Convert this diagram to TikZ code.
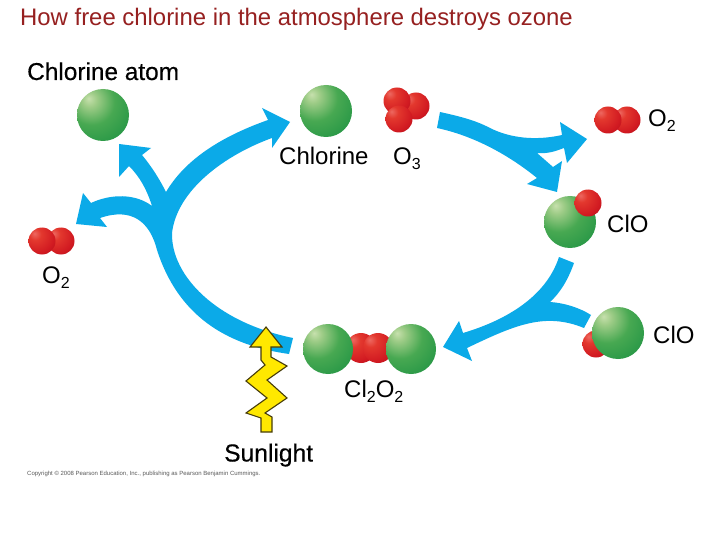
\documentclass[tikz,border=0pt]{standalone}
\usepackage{fontspec}
\setmainfont{Liberation Sans}
\newfontfamily\semib[FakeBold=0.35]{Liberation Sans}
\definecolor{flow}{RGB}{11,170,232}
\definecolor{titlered}{RGB}{150,32,32}
\definecolor{boltfill}{RGB}{255,232,0}
\definecolor{boltline}{RGB}{70,60,10}
\pgfdeclareradialshading{greenball}{\pgfpoint{-14bp}{16bp}}{
 rgb(0bp)=(0.78,0.88,0.68);
 rgb(7bp)=(0.62,0.80,0.53);
 rgb(22bp)=(0.28,0.66,0.32);
 rgb(46bp)=(0.11,0.57,0.26);
 rgb(60bp)=(0.09,0.55,0.27);
 rgb(67bp)=(0.34,0.71,0.36);
 rgb(100bp)=(0.34,0.71,0.36)}
\pgfdeclareradialshading{redball}{\pgfpoint{-14bp}{14bp}}{
 rgb(0bp)=(0.93,0.41,0.38);
 rgb(11bp)=(0.89,0.22,0.18);
 rgb(32bp)=(0.82,0.10,0.13);
 rgb(50bp)=(0.65,0.06,0.10);
 rgb(64bp)=(0.40,0.04,0.08);
 rgb(100bp)=(0.40,0.04,0.08)}
\tikzset{
 cl/.style={circle,minimum size=52pt,inner sep=0pt,shading=greenball},
 ox/.style={circle,minimum size=27pt,inner sep=0pt,shading=redball},
 lbl/.style={anchor=base west,inner sep=0pt,font=\fontsize{24}{26}\selectfont},
 flowarrow/.style={fill=flow,draw=none},
 boltshape/.style={fill=boltfill,draw=boltline,line width=1.1pt,line join=miter}
}
\newcommand{\lowidx}[1]{\raisebox{-5pt}{\fontsize{16}{16}\selectfont #1}}
\begin{document}
\begin{tikzpicture}[x=1pt,y=-1pt]
\useasboundingbox (0,0) rectangle (720,540);
\fill[white] (0,0) rectangle (720,540);
% left branching arrow
\fill[flowarrow] (290,122) -- (272,148) -- (272,138)
 .. controls (225,155) and (177,190) .. (172,233)
 .. controls (171,275) and (215,322) .. (293,338)
 -- (289,354)
 .. controls (225,345) and (178,315) .. (157,250)
 .. controls (150,222) and (132,207) .. (100,218)
 -- (107,227) -- (76,224) -- (83,193) -- (91,203)
 .. controls (110,194) and (135,193) .. (152,206)
 .. controls (147,190) and (140,177) .. (129,166)
 -- (119,177) -- (119,144) -- (151,148) -- (142,155)
 .. controls (152,167) and (160,180) .. (166,192)
 .. controls (185,160) and (220,137) .. (268,120)
 -- (262,108) -- cycle;
% top right branching arrow
\fill[flowarrow] (440,112) -- (437,128)
 .. controls (470,135) and (505,152) .. (537,178)
 -- (527,184) -- (557,192) -- (562,161) -- (553,167) -- (537,153)
 .. controls (548,154) and (556,151) .. (564,148)
 -- (567,163) -- (587,139) -- (560,122) -- (562,135)
 .. controls (535,141) and (510,138) .. (490,128)
 .. controls (475,120) and (458,116) .. (440,112)
 -- cycle;
% bottom right branching arrow
\fill[flowarrow] (559,257) -- (574,263)
 .. controls (568,280) and (560,293) .. (550,302)
 .. controls (565,303) and (580,308) .. (591,315)
 -- (584,328)
 .. controls (545,312) and (515,325) .. (467,348)
 -- (472,361) -- (443,347) -- (459,321) -- (463,333)
 .. controls (500,322) and (545,300) .. (559,257)
 -- cycle;
% bolt
\draw[boltshape] (266,327) -- (282,347) -- (271,347) -- (271,357) -- (287,366) -- (267,380) -- (287,398) -- (265,413) -- (272,417) -- (272,432) -- (261,432) -- (261,418) -- (246,413) -- (267,398) -- (246,381) -- (265,365) -- (261,360) -- (261,347) -- (250,347) -- cycle;
% atoms
\node[cl] (atom) at (103,115) {};
\node[cl] (chlorine) at (326,111) {};
\node[ox] (ob) at (416,106) {};
\node[ox] (oa) at (397,101) {};
\node[ox] (oc) at (399,119) {};
\node[ox] (rb) at (627,120) {};
\node[ox] (ra) at (608,120) {};
\node[ox] (lb) at (61,241) {};
\node[ox] (la) at (42,241) {};
\node[cl] (clotop) at (570,222) {};
\node[ox] (clotopo) at (588,203) {};
\node[ox] (clobotO) at (596,344) {};
\node[cl] (clobot) at (618,333) {};
\node[ox,minimum size=30pt] (cm) at (361,348) {};
\node[ox,minimum size=30pt] (cn) at (378,348) {};
\node[cl,minimum size=50pt] (cl1) at (328,349) {};
\node[cl,minimum size=50pt] (cl2) at (411,349) {};
% text
\node[anchor=base west,inner sep=0pt,text=titlered,font=\fontsize{23.9}{26}\selectfont] (title) at (20,26) {How free chlorine in the atmosphere destroys ozone};
\node[lbl,font=\semib\fontsize{24.4}{26}\selectfont] (tatom) at (27,80) {Chlorine atom};
\node[lbl] (tchl) at (279,165) {Chlorine};
\node[lbl] (to3) at (393,165) {O\lowidx{3}};
\node[lbl] (to2r) at (648,127) {O\lowidx{2}};
\node[lbl] (tclo) at (607,233) {ClO};
\node[lbl] (to2l) at (42,283) {O\lowidx{2}};
\node[lbl] (tclob) at (653,343) {ClO};
\node[lbl] (tcl2) at (344,397) {Cl\lowidx{2}O\lowidx{2}};
\node[lbl,font=\semib\fontsize{24.6}{26}\selectfont] (tsun) at (224,461.5) {Sunlight};
\node[anchor=base west,inner sep=0pt,text=black!65,font=\fontsize{6}{7}\selectfont] (tcopy) at (27,475.5) {Copyright © 2008 Pearson Education, Inc., publishing as Pearson Benjamin Cummings.};
\end{tikzpicture}
\end{document}
